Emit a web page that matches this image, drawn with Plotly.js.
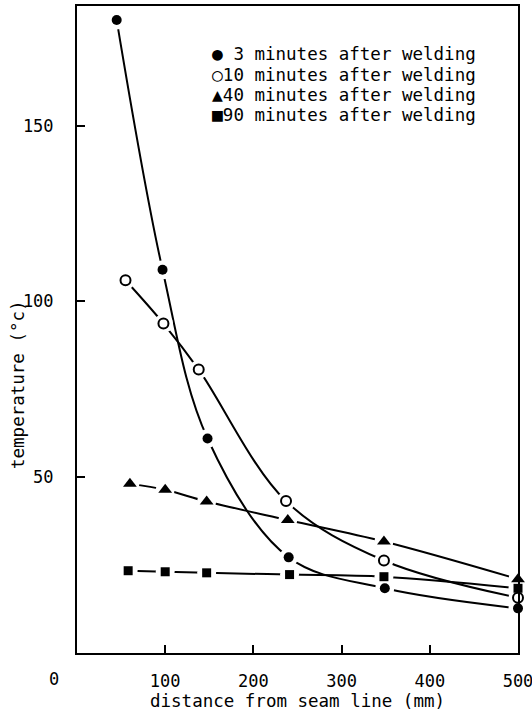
<!DOCTYPE html>
<html><head><meta charset="utf-8">
<script src="https://cdn.plot.ly/plotly-3.0.1.min.js"></script>
<style>html,body{margin:0;padding:0;background:#fff}#chart{width:532px;height:711px}</style>
</head><body><div id="chart"></div>
<script>
// ---- data ----
const seriesNames = ["3 minutes after welding", "10 minutes after welding", "40 minutes after welding", "90 minutes after welding"];
const legendGlyphs = ["\u25CF", "\u25CB", "\u25B2", "\u25A0"];
const legendLabels = ["\u00A03 minutes after welding", "10 minutes after welding", "40 minutes after welding", "90 minutes after welding"];
const x3 = [45, 97, 148, 240, 349, 500];
const y3 = [180, 109, 61, 27.2, 18.4, 12.7];
const x10 = [55, 98, 138, 237, 348, 500];
const y10 = [106, 93.7, 80.6, 43.2, 26.3, 15.7];
const x40 = [60, 100, 147, 239, 348, 500];
const y40 = [48.1, 46.4, 43.1, 37.8, 31.7, 21.0];
const x90 = [58, 100, 147, 241, 348, 500];
const y90 = [23.4, 23.1, 22.8, 22.3, 21.7, 18.4];
const xTickVals = [100, 200, 300, 400, 500];
const yTickVals = [50, 100, 150];
const xTitle = "distance from seam line (mm)";
const yTitle = "temperature (\u00B0c)";
const zeroLabel = "0";

// ---- styling ----
const FONT = "DejaVu Sans Mono";
const xs = [x3, x10, x40, x90];
const ys = [y3, y10, y40, y90];
const symbols = ["circle", "circle-open", "triangle-up", "square"];
const sizes = [10, 10, 12, 9];

const traces = [];
// lines
for (let i = 0; i < 4; i++) {
  traces.push({x: xs[i], y: ys[i], type: "scatter", mode: "lines", name: seriesNames[i],
    line: {color: "#000", width: 2, shape: "spline", smoothing: 1}, showlegend: false, hoverinfo: "skip"});
}
// white halos to break the lines around each marker
for (let i = 0; i < 4; i++) {
  traces.push({x: xs[i], y: ys[i], type: "scatter", mode: "markers", name: seriesNames[i],
    marker: {symbol: "circle", size: 19, color: "#fff"}, cliponaxis: false, showlegend: false, hoverinfo: "skip"});
}
// markers
for (let i = 0; i < 4; i++) {
  const m = {symbol: symbols[i], size: sizes[i], color: "#000"};
  if (symbols[i] === "circle-open") m.line = {color: "#000", width: 2};
  traces.push({x: xs[i], y: ys[i], type: "scatter", mode: "markers", name: seriesNames[i],
    marker: m, cliponaxis: false, showlegend: false});
}

const W = 532, H = 711;
const margin = {l: 77, r: 14, t: 6, b: 58};
const pw = W - margin.l - margin.r, ph = H - margin.t - margin.b;
const px = v => (v - margin.l) / pw;           // pixel -> paper x
const py = v => (H - margin.b - v) / ph;        // pixel -> paper y

const legendRows = [54, 74, 94, 114];
const annotations = legendLabels.map((t, i) => ({
  text: '<span style="font-size:18px">' + legendGlyphs[i] + '</span>' + t,
  xref: "paper", yref: "paper", x: px(211), y: py(legendRows[i]),
  xanchor: "left", yanchor: "middle", showarrow: false, borderpad: 0,
  font: {family: FONT, size: 17.5, color: "#000"}
}));
annotations.push({text: yTitle, xref: "paper", yref: "paper", x: px(18), y: py(385),
  xanchor: "center", yanchor: "middle", textangle: -90, showarrow: false,
  font: {family: FONT, size: 17.5, color: "#000"}});
annotations.push({text: zeroLabel, xref: "paper", yref: "paper", x: px(54), y: py(679),
  xanchor: "center", yanchor: "middle", showarrow: false,
  font: {family: FONT, size: 17, color: "#000"}});

const axisCommon = {
  showline: true, linecolor: "#000", linewidth: 2, mirror: true,
  ticks: "inside", ticklen: 8, tickwidth: 2, tickcolor: "#000",
  showgrid: false, zeroline: false, fixedrange: true,
  ticklabeloverflow: "allow",
  tickfont: {family: FONT, size: 17, color: "#000"}
};

const layout = {
  width: W, height: H, margin: margin,
  paper_bgcolor: "#fff", plot_bgcolor: "#fff",
  showlegend: false,
  font: {family: FONT, color: "#000"},
  xaxis: Object.assign({}, axisCommon, {range: [0, 500], tickmode: "array", tickvals: xTickVals,
    ticklabelstandoff: 12,
    title: {text: xTitle, font: {family: FONT, size: 17.5, color: "#000"}, standoff: 0}}),
  yaxis: Object.assign({}, axisCommon, {range: [0, 184], tickmode: "array", tickvals: yTickVals,
    ticklabelstandoff: 18}),
  annotations: annotations
};

Plotly.newPlot("chart", traces, layout, {staticPlot: true, displayModeBar: false});
</script>
</body></html>
